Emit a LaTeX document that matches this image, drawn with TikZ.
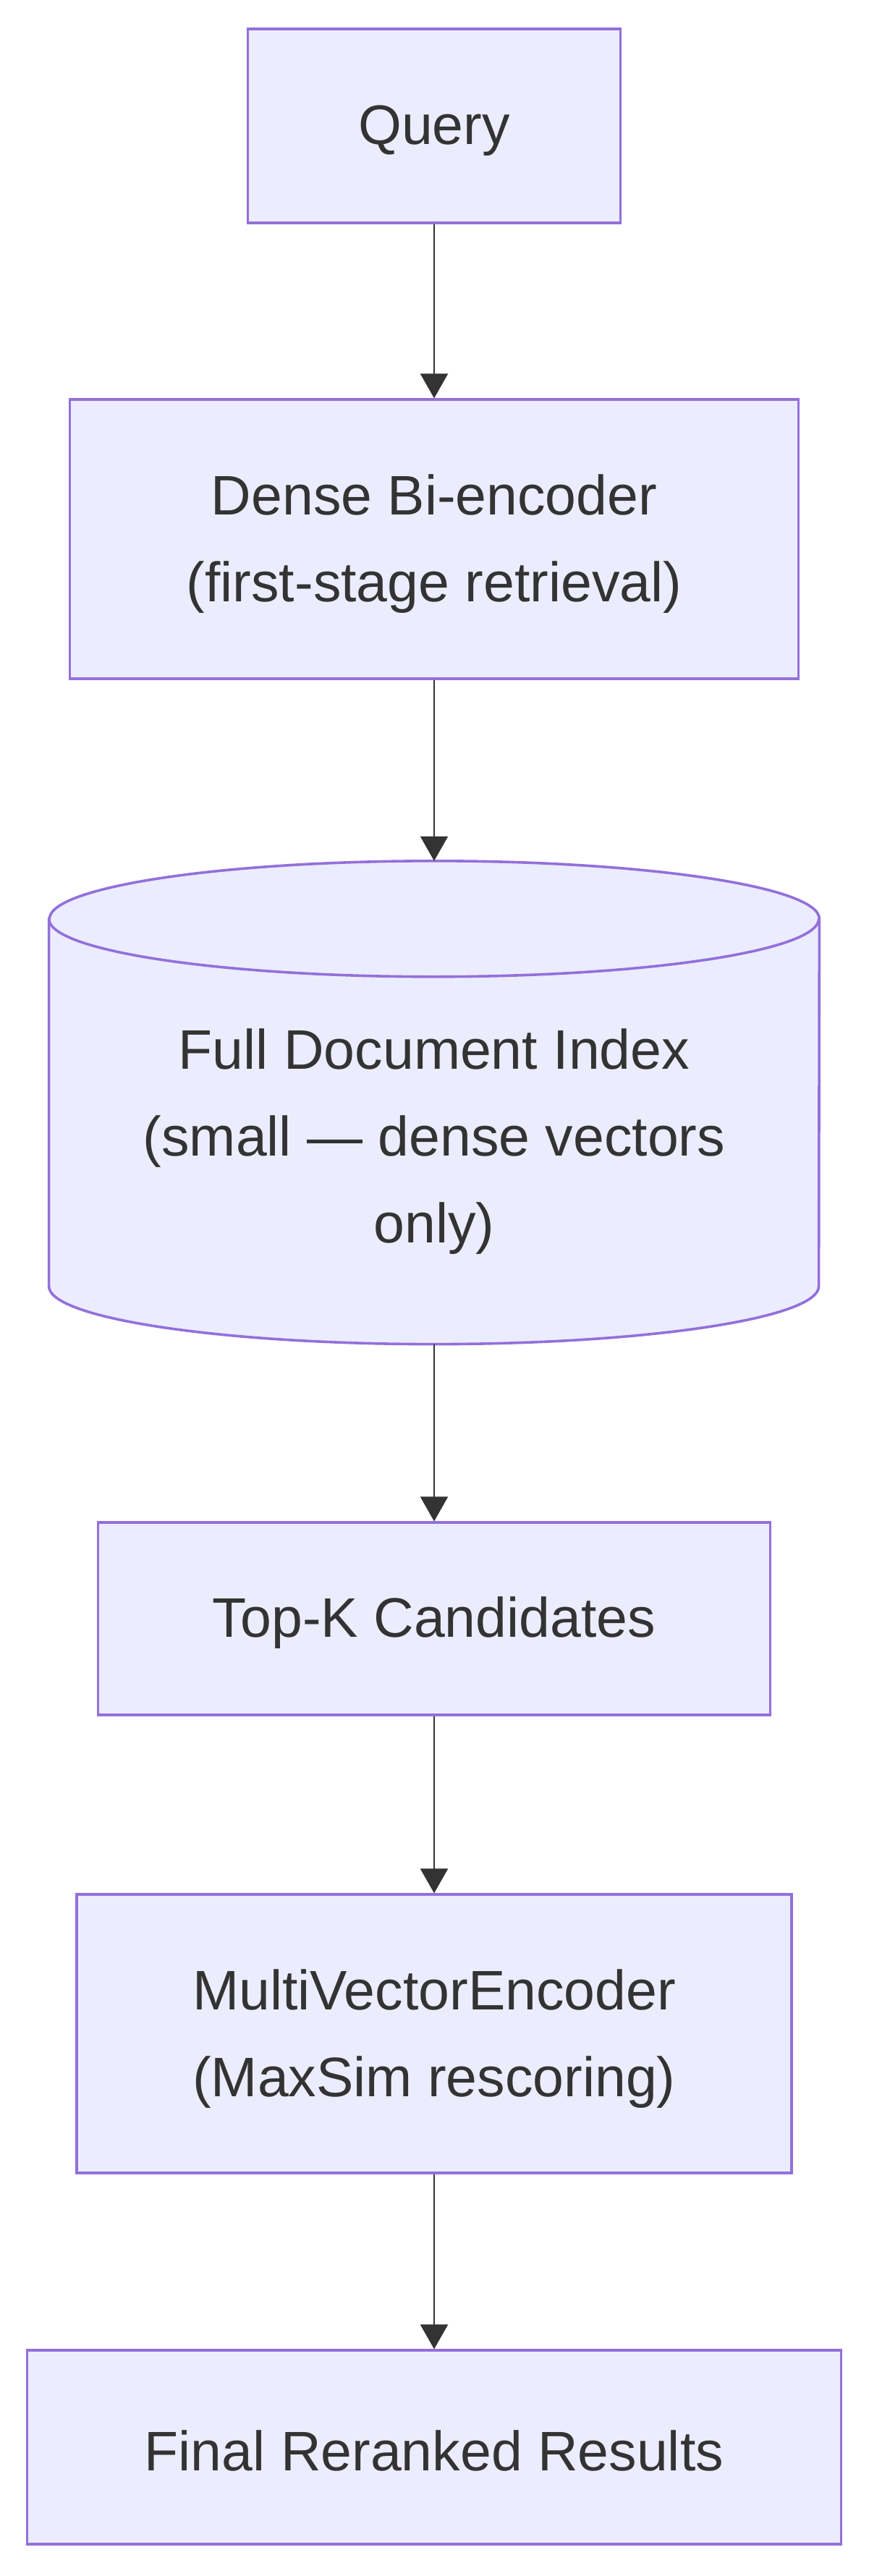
\documentclass[tikz,border=0pt]{standalone}
\usepackage{fontspec}
\setmainfont{Liberation Sans}
\usepackage{xcolor}
\usetikzlibrary{positioning, arrows.meta}
\definecolor{boxfill}{HTML}{ECECFF}
\definecolor{boxline}{HTML}{9370DB}
\definecolor{inkgray}{HTML}{333333}

\begin{document}
\begin{tikzpicture}[x=1pt, y=1pt,
  every node/.style={font=\fontsize{38.5}{60}\selectfont, text=inkgray, align=center},
  box/.style={draw=boxline, fill=boxfill, line width=1.8pt},
  oneline/.style={box, text height=33pt},
  twoline/.style={box, text height=94.5pt},
  flow/.style={-{Triangle[width=19pt,length=17pt]}, draw=inkgray, line width=1.1pt}]
  % Frame
  \useasboundingbox[fill=white] (0,0) rectangle (600,-1780);

  % Nodes
  \node[oneline, minimum width=257.5pt, minimum height=134pt] (query) at (300,-87.1) {Query};
  \node[twoline, minimum width=503.5pt, minimum height=193pt] (dense) at (300,-372.6) {Dense Bi-encoder\\(first-stage retrieval)};
  \node[minimum width=532pt, minimum height=333.5pt, inner sep=0pt] (index) at (300,-761.85) {};
  \node[oneline, minimum width=464.5pt, minimum height=133pt] (topk) at (300,-1118.6) {Top-K Candidates};
  \node[twoline, minimum width=494pt, minimum height=192.5pt] (multi) at (300,-1405.35) {MultiVectorEncoder\\(MaxSim rescoring)};
  \node[oneline, minimum width=562.5pt, minimum height=134pt] (final) at (300,-1691.1) {Final Reranked Results};

  % Index cylinder
  \draw[box] ([yshift=-40pt]index.north west) -- ([yshift=40pt]index.south west)
    arc[start angle=180, end angle=360, x radius=266pt, y radius=40pt]
    -- ([yshift=-40pt]index.north east)
    arc[start angle=0, end angle=180, x radius=266pt, y radius=40pt] -- cycle;
  \draw[draw=boxline, line width=1.8pt] ([yshift=-40pt]index.north west)
    arc[start angle=180, end angle=360, x radius=266pt, y radius=40pt];
  \node (indextext) at ([yshift=-26.7pt]index.center) {Full Document Index\\(small --- dense vectors\\only)};

  % Arrows
  \draw[flow] (query) -- (dense);
  \draw[flow] (dense) -- (index);
  \draw[flow] (index) -- (topk);
  \draw[flow] (topk) -- (multi);
  \draw[flow] (multi) -- (final);
\end{tikzpicture}
\end{document}
